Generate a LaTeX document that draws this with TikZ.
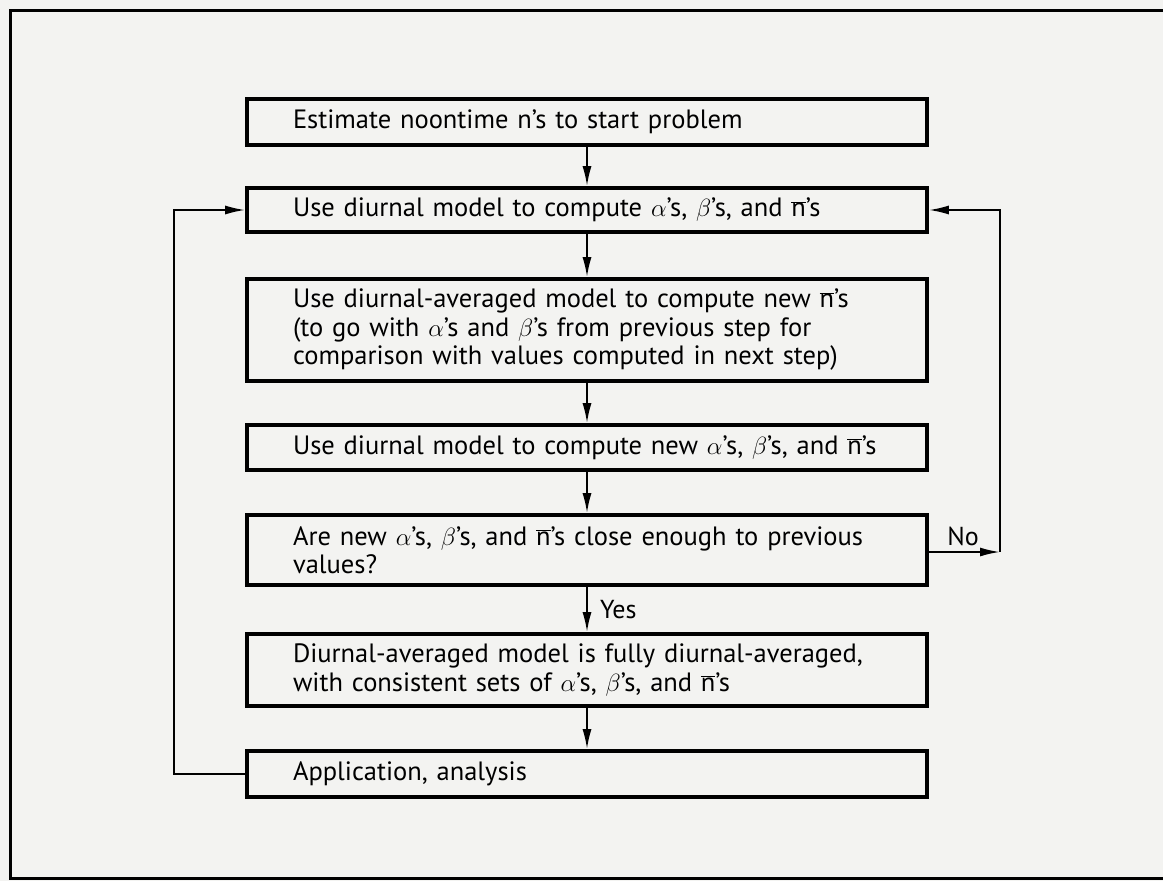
\documentclass[tikz,border=0pt]{standalone}
\usepackage{fontspec}
\setmainfont{PT Sans}
\usetikzlibrary{arrows.meta}
\newcommand{\nb}{\ensuremath{\overline{\mbox{n}}}}
\newcommand{\al}{\ensuremath{\alpha}}
\newcommand{\bt}{\ensuremath{\beta}}
\definecolor{paper}{RGB}{243,243,241}
\begin{document}
\begin{tikzpicture}[x=1pt,y=-1pt,
  stepbox/.style={draw, line width=3.6pt, minimum width=680pt, text width=588pt,
    inner xsep=46pt, inner ysep=2pt, align=left,
    font=\fontsize{26.5pt}{28.5pt}\selectfont},
  conn/.style={line width=2pt},
  arr/.style={conn, -{Latex[length=20pt,width=9pt]}},
  lab/.style={font=\fontsize{26pt}{28pt}\selectfont, inner sep=0pt}]
\useasboundingbox[fill=paper] (0,0) rectangle (1163,881);
\draw[line width=3pt] (1163,10) -- (10,10) -- (10,878) -- (1163,878);
\node[stepbox, minimum height=46pt] (b1) at (587,122) {\mbox{Estimate noontime n's to start problem}};
\node[stepbox, minimum height=44pt] (b2) at (587,210) {\mbox{Use diurnal model to compute \al's, \bt's, and \nb's}};
\node[stepbox, minimum height=102pt] (b3) at (587,330) {\mbox{Use diurnal-averaged model to compute new \nb's}\\\mbox{(to go with \al's and \bt's from previous step for}\\\mbox{comparison with values computed in next step)}};
\node[stepbox, minimum height=45pt] (b4) at (587,447.5) {\mbox{Use diurnal model to compute new \al's, \bt's, and \nb's}};
\node[stepbox, minimum height=70pt] (b5) at (587,550) {\mbox{Are new \al's, \bt's, and \nb's close enough to previous}\\\mbox{values?}};
\node[stepbox, minimum height=72pt] (b6) at (587,670) {\mbox{Diurnal-averaged model is fully diurnal-averaged,}\\\mbox{with consistent sets of \al's, \bt's, and \nb's}};
\node[stepbox, minimum height=46pt] (b7) at (587,774) {\mbox{Application, analysis}};
\draw[arr] (b1) -- (b2);
\draw[arr] (b2) -- (b3);
\draw[arr] (b3) -- (b4);
\draw[arr] (b4) -- (b5);
\draw[arr] (b5) -- node[lab, right=12pt] (yes) {Yes} (b6);
\draw[arr] (b6) -- (b7);
\coordinate (lc) at (174,774);
\draw[arr] (b7.west) -- (lc) |- (b2.west);
\coordinate (rc) at (1000,552);
\draw[arr] (b5.east |- rc) -- (rc);
\draw[arr] (rc) |- (b2.east);
\node[lab] (no) at (963,536) {No};
\end{tikzpicture}
\end{document}
